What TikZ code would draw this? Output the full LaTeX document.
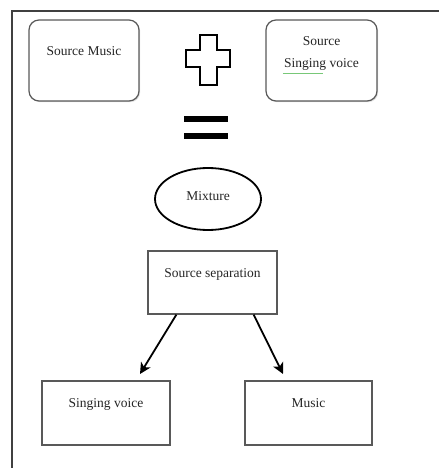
\documentclass[tikz,border=0pt]{standalone}
\usepackage{fontspec}
\setmainfont{Liberation Serif}
\usetikzlibrary{arrows.meta,shapes.geometric,shadows}
\definecolor{spellgreen}{RGB}{120,200,120}
\tikzset{
  box/.style={draw=black!65, line width=1.2pt, fill=white, inner sep=0pt,
    drop shadow={opacity=0.25, shadow xshift=1.2pt, shadow yshift=-1.2pt}},
  roundbox/.style={box, rounded corners=10pt},
  lbl/.style={font=\fontsize{13.5}{15}\selectfont, text=black!85, inner sep=0pt, anchor=base},
  arr/.style={line width=1.8pt, -{Stealth[length=11pt,width=11pt,inset=3pt]}}
}
\begin{document}
\begin{tikzpicture}[x=1pt,y=-1pt]
\useasboundingbox (0,0) rectangle (439,468);
% frame
\coordinate (F0) at (12,468);
\coordinate (F1) at (12,11);
\coordinate (F2) at (439,11);
\draw [line width=2pt, black!75] (F0) -- (F1) -- (F2);
% sources
\node [roundbox, minimum width=110pt, minimum height=81pt] (srcmusic) at (84,60.5) {};
\node [lbl] (srcmusictxt) at (84,56) {Source Music};
\node [roundbox, minimum width=111pt, minimum height=81pt] (srcvoice) at (321.5,60.5) {};
\node [lbl] (srcvoicetxt1) at (321.5,46) {Source};
\node [lbl] (srcvoicetxt2) at (321.5,68) {Singing voice};
\draw [spellgreen, line width=0.8pt] ([xshift=-1pt,yshift=-2pt]srcvoicetxt2.south west) -- ++(40,0);
% plus and equals
\draw [line width=1.8pt, line join=miter]
  (200,35) -- (217,35) -- (217,50) -- (230,50) -- (230,67) -- (217,67) -- (217,85)
  -- (200,85) -- (200,67) -- (186,67) -- (186,50) -- (200,50) -- cycle;
\fill (184,116) rectangle (228,122);
\fill (184,133) rectangle (228,139);
% mixture
\node [ellipse, draw, line width=1.8pt, minimum width=106pt, minimum height=62pt,
  inner sep=0pt] (mix) at (208,199) {};
\node [lbl] (mixtxt) at (208,200) {Mixture};
% separation
\node [box, minimum width=129pt, minimum height=63pt] (sep) at (212.5,282.5) {};
\node [lbl] (septxt) at (212.5,277) {Source separation};
\node [box, minimum width=128pt, minimum height=64pt] (voice) at (106,413) {};
\node [lbl] (voicetxt) at (106,407) {Singing voice};
\node [box, minimum width=127pt, minimum height=64pt] (music) at (308.5,413) {};
\node [lbl] (musictxt) at (308.5,407) {Music};
\coordinate (voicetip) at (140,374);
\coordinate (musictip) at (283,374);
\draw [arr] ([xshift=29pt]sep.south west) -- (voicetip);
\draw [arr] ([xshift=-24pt]sep.south east) -- (musictip);
\end{tikzpicture}
\end{document}
